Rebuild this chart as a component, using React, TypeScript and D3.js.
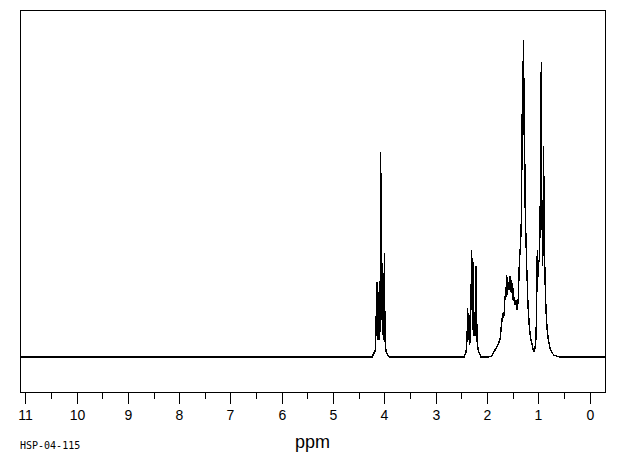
import React from "react";
import * as d3 from "d3";

// Chemical-shift axis (ppm) and trace
const majorTicks = [11, 10, 9, 8, 7, 6, 5, 4, 3, 2, 1, 0];
const minorTicks = [10.5, 9.5, 8.5, 7.5, 6.5, 5.5, 4.5, 3.5, 2.5, 1.5, 0.5];
const ppmFrame = [11.1, -0.32];
const intensityFrame = [-11.2, 109.5];
const xLabel = "ppm";
const sampleId = "HSP-04-115";

// [ppm, relative intensity %]
const baselineStart: [number, number][] = [[11.1, 0], [4.3, 0]];

const multipletOCH2: [number, number][] = [
  [4.24, 0], [4.172, 2.2], [4.152, 18.0], [4.142, 23.7], [4.129, 5.4],
  [4.117, 20.5], [4.103, 5.4], [4.084, 8.5], [4.07, 64.7], [4.06, 11.7],
  [4.051, 33.8], [4.039, 6.9], [4.019, 8.5], [4.01, 5.4], [4.0, 32.8],
  [3.986, 5.4], [3.967, 1.6], [3.908, 0],
];

const tripletCH2CO: [number, number][] = [
  [2.446, 0], [2.407, 1.6], [2.388, 5.4], [2.374, 15.5], [2.363, 5.4],
  [2.349, 13.2], [2.335, 3.8], [2.32, 8.5], [2.296, 33.8], [2.281, 8.5],
  [2.265, 30.0], [2.251, 6.9], [2.232, 6.9], [2.212, 28.7], [2.193, 5.4],
  [2.168, 1.9], [2.115, 0],
];

const alkylRegion: [number, number][] = [
  [1.979, 0], [1.906, 0.3], [1.809, 3.2], [1.745, 5.4], [1.725, 8.5],
  [1.711, 12.3], [1.696, 11.0], [1.68, 14.2], [1.667, 12.9], [1.647, 19.2],
  [1.634, 18.0], [1.614, 25.9], [1.598, 19.6], [1.583, 23.7], [1.569, 21.1],
  [1.55, 25.6], [1.536, 20.5], [1.517, 24.3], [1.501, 18.0], [1.485, 21.8],
  [1.472, 18.0], [1.452, 16.4], [1.433, 18.0], [1.419, 14.8], [1.404, 15.5],
  [1.388, 18.6], [1.368, 29.7], [1.341, 36.9], [1.326, 44.8], [1.31, 80.0],
  [1.3, 70.0], [1.29, 100], [1.281, 74.8], [1.271, 88.0], [1.257, 49.5],
  [1.238, 36.9], [1.224, 28.4], [1.199, 16.4], [1.173, 9.5], [1.15, 6.0],
  [1.127, 4.4], [1.101, 2.5], [1.082, 1.7], [1.062, 2.8], [1.043, 6.0],
  [1.029, 18.0], [1.018, 33.8], [1.004, 27.4], [0.998, 25.2], [0.988, 30.0],
  [0.979, 30.6], [0.965, 40.1], [0.951, 65.3], [0.94, 93.1], [0.93, 40.1],
  [0.92, 49.5], [0.912, 28.7], [0.903, 43.2], [0.895, 66.6], [0.883, 40.1],
  [0.867, 24.3], [0.848, 14.8], [0.828, 9.1], [0.803, 5.4], [0.77, 2.8],
  [0.737, 1.4], [0.692, 0.6], [0.639, 0.3], [0.575, 0],
];

const baselineEnd: [number, number][] = [[-0.32, 0]];

export default function App() {
  const W = 620;
  const H = 455;
  const x = d3.scaleLinear().domain([11, 0]).range([25.3, 589.5]);
  const y = d3.scaleLinear().domain([0, 100]).range([357, 40]);

  const trace = [
    ...baselineStart,
    ...multipletOCH2,
    ...tripletCH2CO,
    ...alkylRegion,
    ...baselineEnd,
  ];
  const line = d3
    .line<[number, number]>()
    .x((d) => x(d[0]))
    .y((d) => y(d[1]));

  const fx0 = Math.round(x(ppmFrame[0])) + 0.5;
  const fx1 = Math.round(x(ppmFrame[1])) - 0.5;
  const fy0 = Math.round(y(intensityFrame[1])) + 0.5;
  const fy1 = Math.round(y(intensityFrame[0])) - 0.5;

  return (
    <svg
      width={W}
      height={H}
      style={{ position: "absolute", left: 0, top: 0, background: "#fff" }}
    >
      <rect x={0} y={0} width={W} height={H} fill="#fff" />
      <rect
        x={fx0}
        y={fy0}
        width={fx1 - fx0}
        height={fy1 - fy0}
        fill="none"
        stroke="#000"
        strokeWidth={1}
        shapeRendering="crispEdges"
      />
      <path
        d={line(trace) || ""}
        fill="none"
        stroke="#000"
        strokeWidth={1.4}
        strokeLinejoin="miter"
        shapeRendering="crispEdges"
      />
      {majorTicks.map((t) => {
        const tx = Math.round(x(t)) + 0.5;
        return (
          <g key={"M" + t}>
            <line x1={tx} x2={tx} y1={fy1} y2={fy1 + 11} stroke="#000" shapeRendering="crispEdges" />
            <text
              x={tx}
              y={420}
              textAnchor="middle"
              fontFamily="Liberation Sans, Arial, sans-serif"
              fontSize={14}
              fill="#000"
            >
              {t}
            </text>
          </g>
        );
      })}
      {minorTicks.map((t) => {
        const tx = Math.round(x(t)) + 0.5;
        return (
          <line key={"m" + t} x1={tx} x2={tx} y1={fy1} y2={fy1 + 6.5} stroke="#000" shapeRendering="crispEdges" />
        );
      })}
      <text
        x={x(5.4)}
        y={448}
        textAnchor="middle"
        fontFamily="Liberation Sans, Arial, sans-serif"
        fontSize={18}
        fill="#000"
      >
        {xLabel}
      </text>
      <text
        x={20}
        y={448.5}
        fontFamily="DejaVu Sans Mono, monospace"
        fontSize={10}
        fill="#000"
      >
        {sampleId}
      </text>
    </svg>
  );
}
